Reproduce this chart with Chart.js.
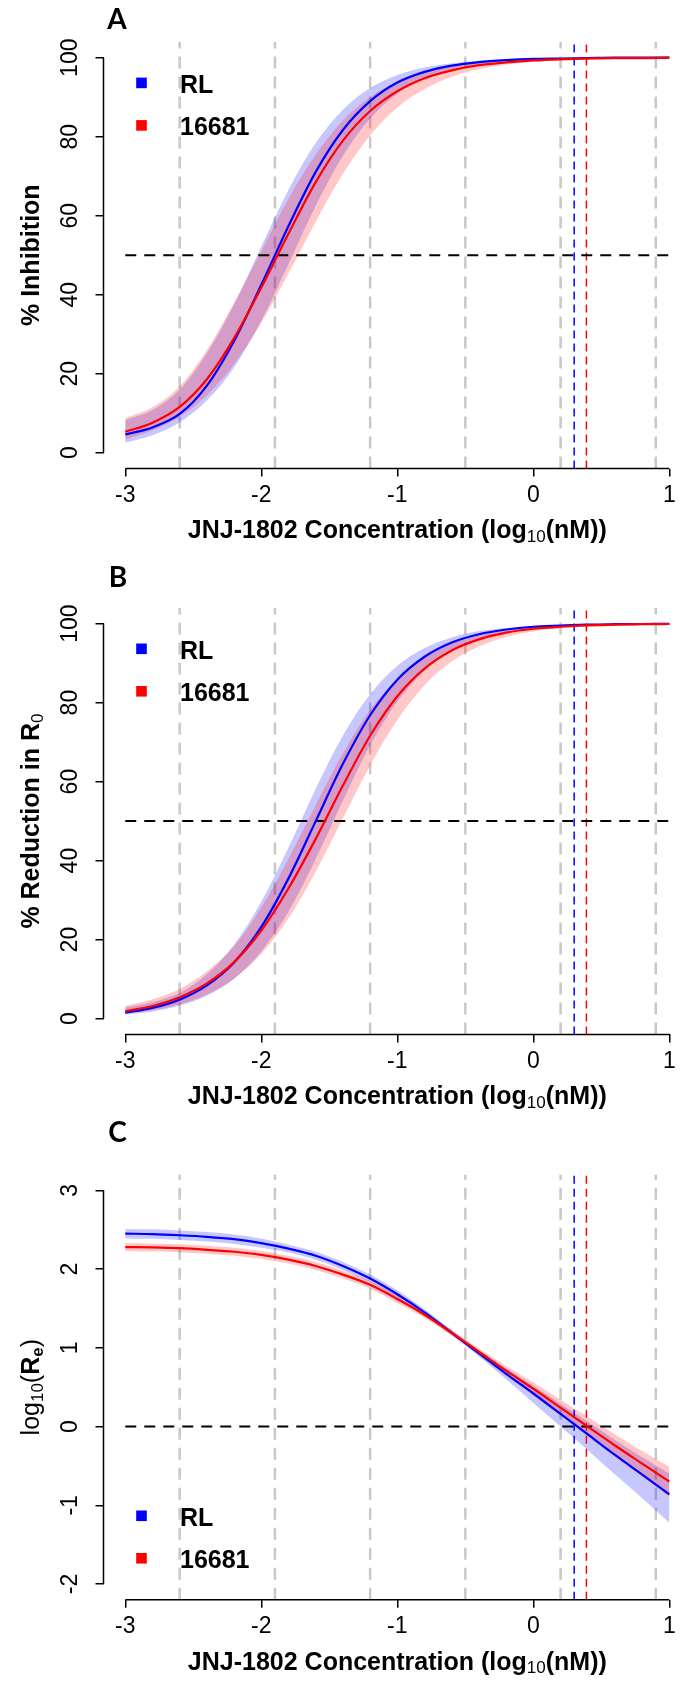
<!DOCTYPE html>
<html>
<head>
<meta charset="utf-8">
<script src="https://cdn.jsdelivr.net/npm/chart.js@4.4.1/dist/chart.umd.min.js"></script>
<style>
  html, body { margin: 0; padding: 0; background: #fff; }
  body { width: 681px; height: 1682px; position: relative; overflow: hidden; }
  canvas { position: absolute; left: 0; }
</style>
</head>
<body>
<canvas id="panelA" width="681" height="560" style="top:0px"></canvas>
<canvas id="panelB" width="681" height="555" style="top:560px"></canvas>
<canvas id="panelC" width="681" height="567" style="top:1115px"></canvas>
<script>
// concentration grid, log10(nM)
const conc = [-3, -2.8, -2.6, -2.4, -2.2, -2, -1.8, -1.6, -1.4, -1.2, -1, -0.8, -0.6, -0.4, -0.2, 0, 0.2, 0.4, 0.6, 0.8, 1];
const strains = ["RL", "16681"];

// A: % inhibition
const inhibRL     = [4.6, 6.4, 9.8, 17.0, 28.3, 42.5, 57.4, 71.1, 81.7, 89.0, 93.7, 96.4, 98.0, 98.9, 99.4, 99.7, 99.8, 99.9, 100, 100, 100];
const inhibRLHi   = [8.3, 10.8, 16.0, 25.2, 37.5, 52.2, 66.6, 78.4, 86.8, 92.3, 95.6, 97.5, 98.6, 99.25, 99.6, 99.8, 99.9, 99.95, 100, 100, 100];
const inhibRLLo   = [2.5, 4.4, 7.7, 13.2, 21.6, 33.4, 47.8, 62.5, 75.2, 84.6, 90.9, 94.8, 97.1, 98.4, 99.1, 99.5, 99.7, 99.85, 99.9, 99.95, 100];
const inhib16681   = [5.3, 7.6, 11.6, 18.6, 29.0, 41.8, 55.5, 68.5, 79.0, 86.5, 91.5, 94.8, 96.8, 98.1, 98.8, 99.3, 99.6, 99.8, 99.9, 99.9, 100];
const inhib16681Hi = [8.8, 11.5, 16.8, 26.0, 38.0, 51.0, 64.3, 75.5, 84.1, 90.0, 93.9, 96.3, 97.8, 98.7, 99.2, 99.5, 99.7, 99.8, 99.9, 99.95, 100];
const inhib16681Lo = [3.3, 5.6, 9.1, 14.5, 22.4, 32.9, 45.4, 58.5, 70.6, 80.3, 87.4, 92.1, 95.2, 97.1, 98.3, 99.0, 99.4, 99.6, 99.8, 99.9, 99.9];

// B: % reduction in R0
const reducRL     = [1.5, 2.7, 4.8, 8.4, 14.2, 23.2, 35.5, 50.0, 64.5, 76.8, 85.8, 91.6, 95.2, 97.3, 98.5, 99.2, 99.5, 99.75, 99.85, 99.9, 99.95];
const reducRLHi   = [2.8, 4.2, 6.5, 11.2, 18.7, 29.6, 43.3, 58.2, 71.7, 82.1, 89.3, 93.8, 96.5, 98.1, 98.9, 99.4, 99.65, 99.8, 99.9, 99.95, 100];
const reducRLLo   = [1.0, 1.8, 3.3, 5.8, 10.1, 17.0, 27.1, 40.4, 55.2, 69.2, 80.3, 88.1, 93.1, 96.1, 97.8, 98.8, 99.3, 99.6, 99.8, 99.9, 99.9];
const reduc16681   = [1.9, 3.2, 5.4, 8.9, 14.3, 22.3, 33.0, 45.5, 59.0, 71.6, 81.6, 88.6, 93.2, 96.0, 97.7, 98.7, 99.2, 99.55, 99.75, 99.85, 99.9];
const reduc16681Hi = [3.2, 4.9, 7.5, 12.0, 18.4, 28.1, 40.5, 54.1, 67.2, 78.1, 86.1, 91.5, 94.9, 97.0, 98.3, 99.0, 99.4, 99.65, 99.8, 99.9, 99.95];
const reduc16681Lo = [1.2, 2.1, 3.6, 6.1, 10.1, 16.4, 25.4, 37.2, 50.7, 64.1, 75.6, 84.4, 90.4, 94.2, 96.6, 98.0, 98.8, 99.3, 99.6, 99.8, 99.9];

// C: log10(Re)
const logReRL     = [2.45, 2.445, 2.43, 2.41, 2.38, 2.33, 2.26, 2.17, 2.04, 1.88, 1.68, 1.45, 1.19, 0.93, 0.67, 0.42, 0.16, -0.1, -0.36, -0.61, -0.86];
const logReRLHi   = [2.51, 2.505, 2.49, 2.47, 2.44, 2.39, 2.31, 2.22, 2.09, 1.93, 1.73, 1.49, 1.225, 0.97, 0.74, 0.52, 0.29, 0.06, -0.17, -0.39, -0.6];
const logReRLLo   = [2.39, 2.385, 2.37, 2.35, 2.32, 2.27, 2.21, 2.12, 1.99, 1.83, 1.63, 1.41, 1.155, 0.89, 0.6, 0.3, 0.0, -0.3, -0.61, -0.91, -1.22];
const logRe16681   = [2.28, 2.275, 2.265, 2.245, 2.22, 2.18, 2.12, 2.04, 1.93, 1.80, 1.62, 1.42, 1.19, 0.95, 0.71, 0.48, 0.24, 0.0, -0.24, -0.47, -0.70];
const logRe16681Hi = [2.33, 2.325, 2.315, 2.295, 2.27, 2.23, 2.17, 2.09, 1.98, 1.85, 1.67, 1.46, 1.225, 0.99, 0.77, 0.56, 0.34, 0.12, -0.1, -0.31, -0.51];
const logRe16681Lo = [2.23, 2.225, 2.215, 2.195, 2.17, 2.13, 2.07, 1.99, 1.88, 1.75, 1.57, 1.38, 1.155, 0.91, 0.65, 0.40, 0.14, -0.12, -0.38, -0.63, -0.89];

// ticks and reference lines
const xTicks = [-3, -2, -1, 0, 1];
const pctTicks = [0, 20, 40, 60, 80, 100];
const logReTicks = [-2, -1, 0, 1, 2, 3];
const greyLines = [-2.6, -1.9, -1.2, -0.5, 0.2, 0.9];
const ic50Lines = [0.3, 0.39]; // RL, 16681

const BLUE = "#0000FF";
const RED = "#FF0000";
const FONT = '"Liberation Sans", Arial, sans-serif';
const boldTitle = "bold 25px " + FONT;
const plainTitle = "25px " + FONT;
const subFont = "17px " + FONT;
const boldSub = "bold 17px " + FONT;

const xTitle = [
  { text: "JNJ-1802 Concentration (log", font: boldTitle },
  { text: "10", font: subFont, dy: 6 },
  { text: "(nM))", font: boldTitle },
];

function pts(ys) {
  return conc.map((x, i) => ({ x: x, y: ys[i] }));
}

function drawRich(ctx, runs, cx, cy, vertical) {
  ctx.save();
  ctx.translate(cx, cy);
  if (vertical) ctx.rotate(-Math.PI / 2);
  ctx.textBaseline = "middle";
  ctx.textAlign = "left";
  ctx.fillStyle = "#000";
  let total = 0;
  const widths = runs.map((r) => {
    ctx.font = r.font;
    const w = ctx.measureText(r.text).width;
    total += w;
    return w;
  });
  let x = -total / 2;
  runs.forEach((r, i) => {
    ctx.font = r.font;
    ctx.fillText(r.text, x, r.dy || 0);
    x += widths[i];
  });
  ctx.restore();
}

function decor(p) {
  return {
    id: "decor" + p.label,
    afterDraw(chart) {
      const ctx = chart.ctx;
      const xs = chart.scales.x;
      const ys = chart.scales.y;
      const area = chart.chartArea;
      ctx.save();
      // base R style axis lines, first to last tick only
      ctx.strokeStyle = "#000";
      ctx.lineWidth = 1.5;
      ctx.beginPath();
      ctx.moveTo(xs.getPixelForValue(xTicks[0]), area.bottom);
      ctx.lineTo(xs.getPixelForValue(xTicks[xTicks.length - 1]), area.bottom);
      ctx.moveTo(area.left, ys.getPixelForValue(p.yTicks[0]));
      ctx.lineTo(area.left, ys.getPixelForValue(p.yTicks[p.yTicks.length - 1]));
      ctx.stroke();

      // titles
      drawRich(ctx, xTitle, xs.getPixelForValue(-1), area.bottom + 63, false);
      drawRich(ctx, p.yTitle, 32, ys.getPixelForValue((p.yMin + p.yMax) / 2), true);

      // panel letter
      ctx.fillStyle = "#000";
      ctx.font = "bold 28px Lato, sans-serif";
      ctx.textAlign = "center";
      ctx.textBaseline = "middle";
      ctx.fillText(p.label, p.labelX, p.labelY);

      // legend
      const rows = p.legendTop ? [area.top + 41, area.top + 83.5] : [area.bottom - 84, area.bottom - 41.5];
      [BLUE, RED].forEach((c, i) => {
        ctx.fillStyle = c;
        ctx.fillRect(136.2, rows[i] - 5.3, 10.6, 10.6);
        ctx.fillStyle = "#000";
        ctx.font = "bold 25px " + FONT;
        ctx.textAlign = "left";
        ctx.fillText(strains[i], 180, rows[i] + 3);
      });
      ctx.restore();
    },
  };
}

function makePanel(id, p) {
  const ds = [];
  const line = (data, color, width, dash, order) => ({
    data: data,
    borderColor: color,
    borderWidth: width,
    borderDash: dash,
    pointRadius: 0,
    fill: false,
    order: order,
  });
  ds.push({ ...line(pts(p.red), RED, 2.2, [], 0), cubicInterpolationMode: "monotone" });
  ds.push({ ...line(pts(p.blue), BLUE, 2.2, [], 1), cubicInterpolationMode: "monotone" });
  ds.push(line([{ x: -3, y: p.hLine }, { x: 1.2, y: p.hLine }], "#000", 2, [11, 8], 2));
  ds.push(line([{ x: ic50Lines[0], y: p.yMin }, { x: ic50Lines[0], y: p.yMax }], BLUE, 1.5, [8, 5], 3));
  ds.push(line([{ x: ic50Lines[1], y: p.yMin }, { x: ic50Lines[1], y: p.yMax }], RED, 1.5, [8, 5], 3));
  greyLines.forEach((g) => {
    ds.push(line([{ x: g, y: p.yMin }, { x: g, y: p.yMax }], "#c8c8c8", 2.5, [12, 8], 9));
  });
  const band = (hi, lo, color, order) => {
    ds.push({ data: pts(hi), borderColor: "transparent", borderWidth: 1, pointRadius: 0, fill: "+1", backgroundColor: color, order: order, cubicInterpolationMode: "monotone" });
    ds.push({ data: pts(lo), borderColor: "transparent", borderWidth: 1, pointRadius: 0, fill: false, order: order, cubicInterpolationMode: "monotone" });
  };
  band(p.redHi, p.redLo, "rgba(255,0,0,0.22)", 5);
  band(p.blueHi, p.blueLo, "rgba(0,0,255,0.22)", 6);

  const canvas = document.getElementById(id);
  const H = canvas.height;

  new Chart(canvas, {
    type: "line",
    data: { datasets: ds },
    options: {
      responsive: false,
      animation: false,
      devicePixelRatio: 1,
      layout: { autoPadding: false, padding: { top: p.plotTop, left: 0, right: 0, bottom: 0 } },
      scales: {
        x: {
          type: "linear",
          min: -3.16,
          max: 1.037,
          afterFit: (s) => { s.height = H - p.plotBottom; },
          afterBuildTicks: (s) => { s.ticks = xTicks.map((v) => ({ value: v })); },
          grid: { drawOnChartArea: false, color: "#000", lineWidth: 1.5, tickLength: 8 },
          border: { display: false },
          ticks: {
            maxRotation: 0,
            padding: 5.2,
            color: "#000",
            font: { size: 23, family: FONT },
          },
        },
        y: {
          type: "linear",
          min: p.yMin,
          max: p.yMax,
          afterFit: (s) => { s.width = 103.5; },
          afterBuildTicks: (s) => { s.ticks = p.yTicks.map((v) => ({ value: v })); },
          grid: { drawOnChartArea: false, color: "#000", lineWidth: 1.5, tickLength: 8 },
          border: { display: false },
          ticks: {
            minRotation: 90,
            maxRotation: 90,
            crossAlign: "center",
            padding: p.yTickPad,
            color: "#000",
            font: { size: 23, family: FONT },
          },
        },
      },
      plugins: {
        legend: { display: false },
        tooltip: { enabled: false },
      },
    },
    plugins: [decor(p)],
  });
}

makePanel("panelA", {
  label: "A", labelX: 117, labelY: 20,
  plotTop: 41.9, plotBottom: 468.5,
  yMin: -4, yMax: 104, yTicks: pctTicks, yTickPad: 5.3, hLine: 50,
  blue: inhibRL, blueHi: inhibRLHi, blueLo: inhibRLLo,
  red: inhib16681, redHi: inhib16681Hi, redLo: inhib16681Lo,
  yTitle: [{ text: "% Inhibition", font: boldTitle }],
  legendTop: true,
});

makePanel("panelB", {
  label: "B", labelX: 118, labelY: 17.5,
  plotTop: 47.8, plotBottom: 474.4,
  yMin: -4, yMax: 104, yTicks: pctTicks, yTickPad: 5.3, hLine: 50,
  blue: reducRL, blueHi: reducRLHi, blueLo: reducRLLo,
  red: reduc16681, redHi: reduc16681Hi, redLo: reduc16681Lo,
  yTitle: [{ text: "% Reduction in R", font: boldTitle }, { text: "0", font: subFont, dy: 6 }],
  legendTop: true,
});

makePanel("panelC", {
  label: "C", labelX: 117.5, labelY: 18,
  plotTop: 59.6, plotBottom: 484.8,
  yMin: -2.2, yMax: 3.2, yTicks: logReTicks, yTickPad: 14.3, hLine: 0,
  blue: logReRL, blueHi: logReRLHi, blueLo: logReRLLo,
  red: logRe16681, redHi: logRe16681Hi, redLo: logRe16681Lo,
  yTitle: [
    { text: "log", font: plainTitle },
    { text: "10", font: subFont, dy: 6 },
    { text: "(", font: plainTitle },
    { text: "R", font: boldTitle },
    { text: "e", font: boldSub, dy: 6 },
    { text: ")", font: plainTitle },
  ],
  legendTop: false,
});
</script>
</body>
</html>
